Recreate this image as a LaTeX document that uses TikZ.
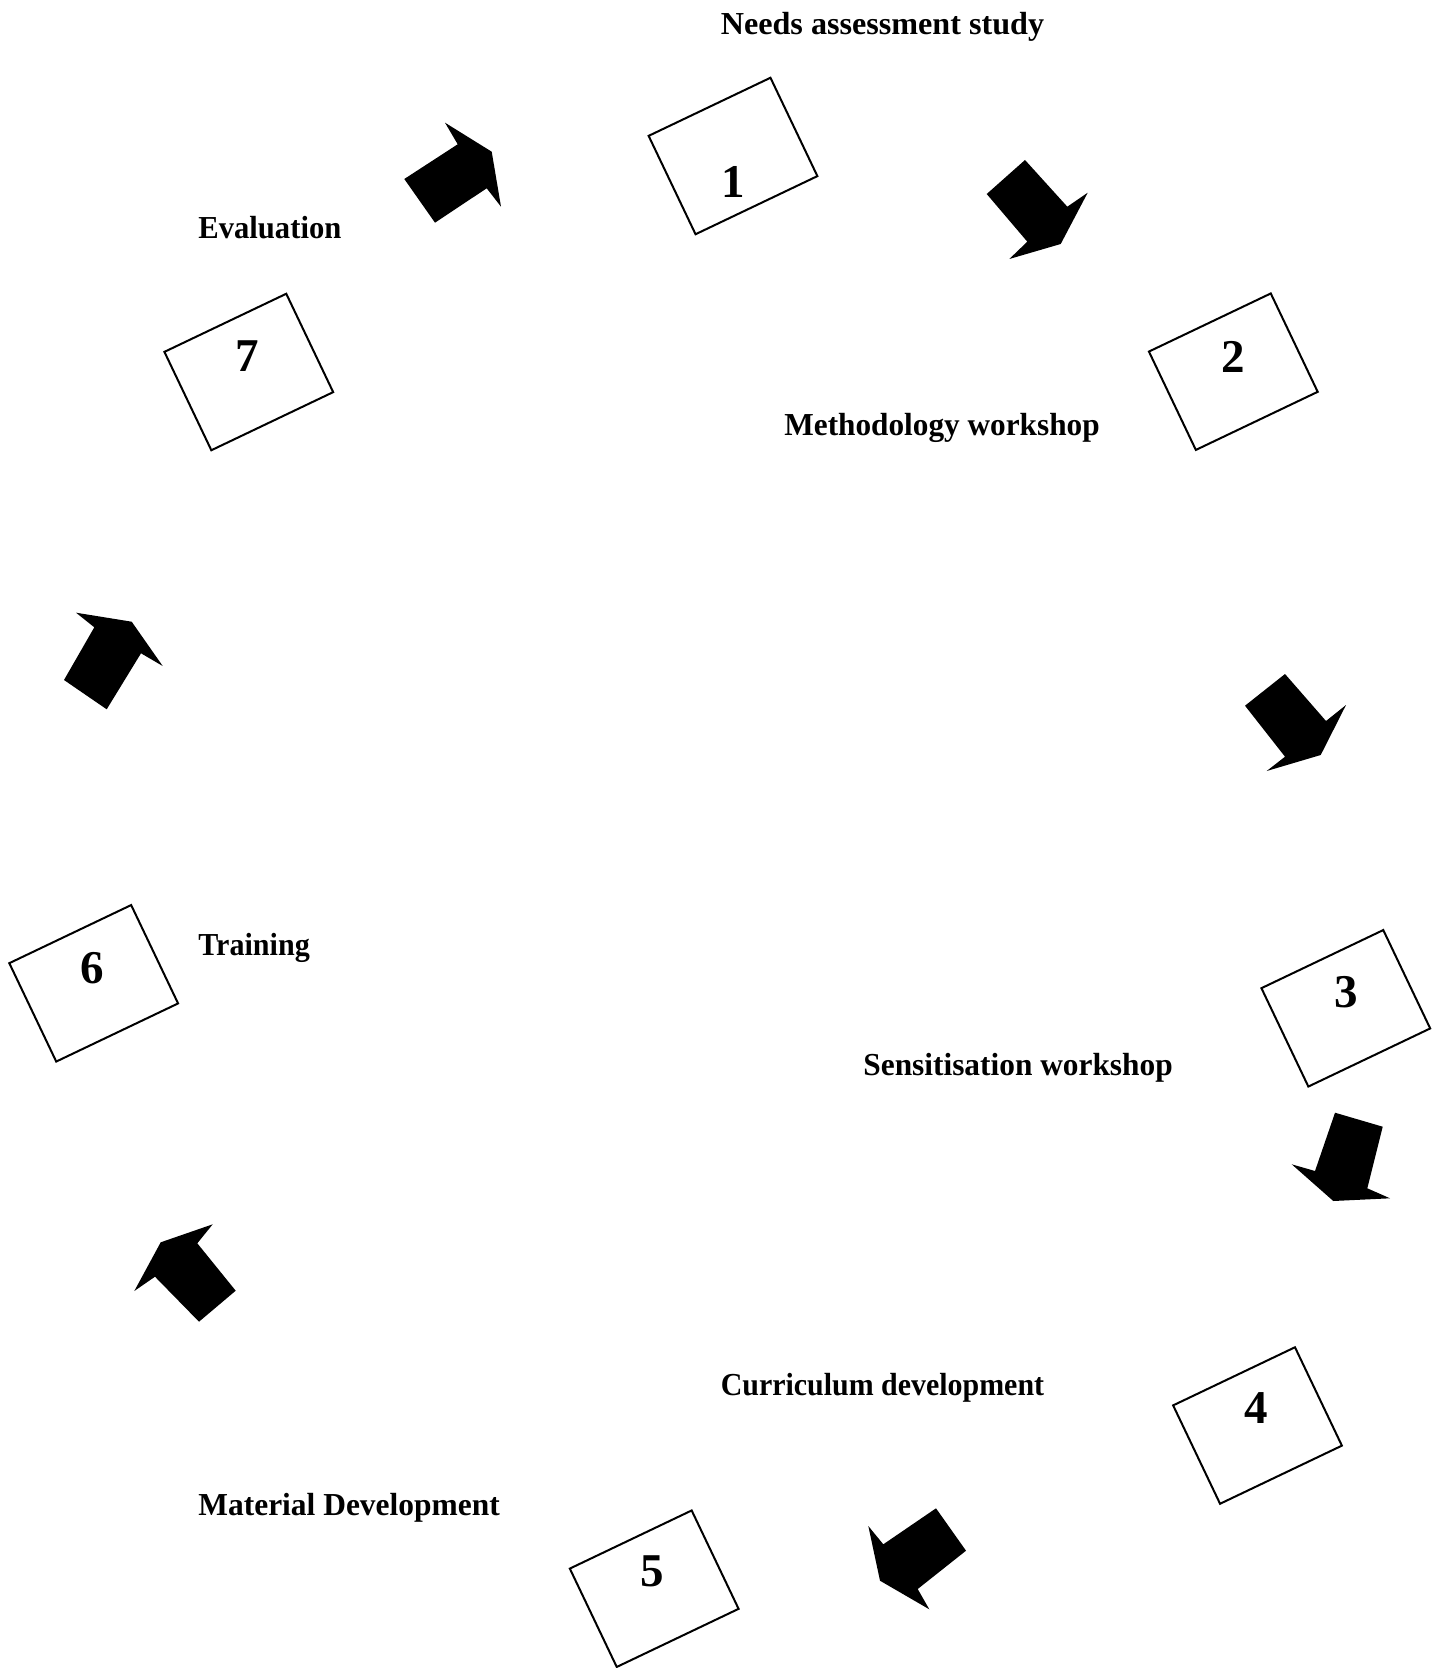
\documentclass[tikz,border=0pt]{standalone}
\usepackage{fontspec}
\usepackage{graphicx}
\setmainfont{Liberation Serif}
\begin{document}
\begin{tikzpicture}[x=0.5pt,y=-0.5pt,
  stagebox/.style={draw=black,line width=1pt,rotate=25.5,minimum width=67.5pt,minimum height=54.5pt,inner sep=0pt},
  stagenum/.style={font=\fontsize{23.5}{28}\selectfont\bfseries,inner sep=0pt},
  stagelabel/.style={font=\fontsize{16}{19}\selectfont\bfseries,inner sep=0pt,anchor=west},
  blockarrow/.style={fill=black,draw=none}]
\useasboundingbox (0,0) rectangle (1444,1668);
% boxes
\node[stagebox] (b1) at (733,156) {};
\node[stagebox] (b2) at (1233.3,371.7) {};
\node[stagebox] (b3) at (1345.8,1008.3) {};
\node[stagebox] (b4) at (1257.5,1425.5) {};
\node[stagebox] (b5) at (654.2,1588.7) {};
\node[stagebox] (b6) at (93.7,983.3) {};
\node[stagebox] (b7) at (248.8,372) {};
% numbers
\node[stagenum] (n1) at (733,181.7) {1};
\node[stagenum] (n2) at (1233.3,356.7) {2};
\node[stagenum] (n3) at (1346,991.7) {3};
\node[stagenum] (n4) at (1256.7,1408.3) {4};
\node[stagenum] (n5) at (652.7,1571.7) {5};
\node[stagenum] (n6) at (92.7,968.3) {6};
\node[stagenum] (n7) at (247.7,356) {7};
% labels
\node[stagelabel] (l1) at (720.4,27) {\scalebox{1.005}[1]{Needs assessment study}};
\node[stagelabel] (l2) at (784,428) {\scalebox{0.977}[1]{Methodology workshop}};
\node[stagelabel] (l3) at (863,1067.5) {\scalebox{0.98}[1]{Sensitisation workshop}};
\node[stagelabel] (l4) at (720.4,1388) {\scalebox{0.935}[1]{Curriculum development}};
\node[stagelabel] (l5) at (198,1508) {\scalebox{0.983}[1]{Material Development}};
\node[stagelabel] (l6) at (198,947.5) {\scalebox{0.94}[1]{Training}};
\node[stagelabel] (l7) at (198,228) {\scalebox{0.957}[1]{Evaluation}};
% block arrows
\fill[blockarrow] (404.3,179) -- (457.7,144.3) -- (445,122.7) -- (491.7,151.7) -- (501,206.7) -- (486.7,188.3) -- (435,222.7) -- cycle;
\fill[blockarrow] (1025,160) -- (1067.3,206.7) -- (1087.7,192.7) -- (1060.7,244) -- (1009.3,259) -- (1027.3,241.7) -- (986.7,194) -- cycle;
\fill[blockarrow] (1285,674) -- (1326,721) -- (1346,705) -- (1320.7,755) -- (1266.7,771) -- (1285,756.7) -- (1245,705.7) -- cycle;
\fill[blockarrow] (1335,1112.7) -- (1382.7,1126.7) -- (1367.3,1188.3) -- (1390,1198.3) -- (1333.3,1201) -- (1291.7,1164.3) -- (1315,1171) -- cycle;
\fill[blockarrow] (936,1508.3) -- (966,1550.7) -- (917.7,1589) -- (929.3,1609.3) -- (880,1580.7) -- (868.3,1526) -- (883.3,1544.3) -- cycle;
\fill[blockarrow] (160.7,1242.3) -- (212.7,1224.3) -- (197.3,1243.3) -- (235.7,1290.7) -- (199,1321.7) -- (155,1276.7) -- (134.3,1291) -- cycle;
\fill[blockarrow] (76,612.7) -- (131.7,621.7) -- (162.7,666) -- (141,653.3) -- (106.7,709.3) -- (64,680) -- (94.3,627.3) -- cycle;
\end{tikzpicture}
\end{document}
